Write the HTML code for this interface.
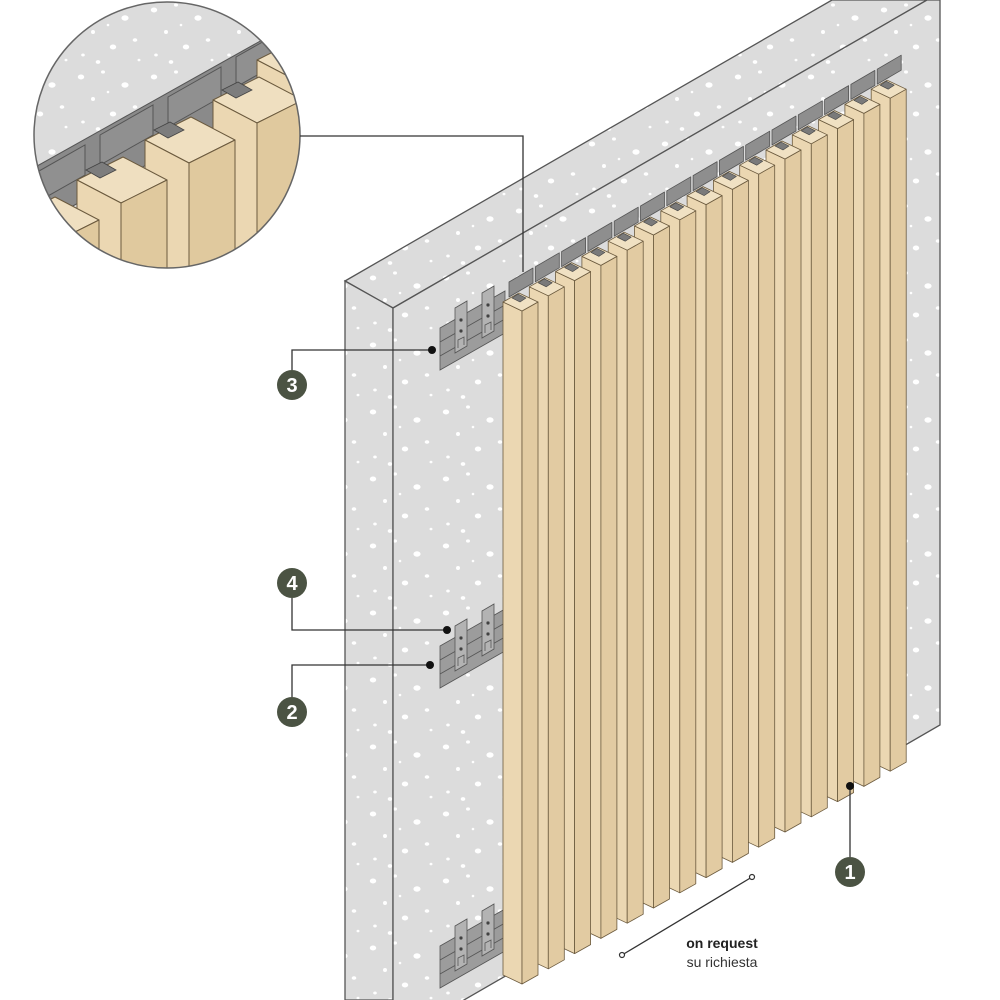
<!DOCTYPE html>
<html><head><meta charset="utf-8"><style>
html,body{margin:0;padding:0;background:#fff;}
svg{display:block;}
text{font-family:"Liberation Sans",sans-serif;}
</style></head><body>
<svg width="1000" height="1000" viewBox="0 0 1000 1000" xmlns="http://www.w3.org/2000/svg">
<defs>
<pattern id="dots" width="73" height="67" patternUnits="userSpaceOnUse">
<rect width="73" height="67" fill="#dcdcdc"/>
<g fill="#fff">
<ellipse cx="8" cy="10" rx="3.2" ry="2.5"/><ellipse cx="30" cy="5" rx="2" ry="1.6"/>
<ellipse cx="52" cy="18" rx="3.6" ry="2.7"/><ellipse cx="20" cy="32" rx="2" ry="2"/>
<ellipse cx="62" cy="40" rx="2.3" ry="1.8"/><ellipse cx="40" cy="47" rx="3.2" ry="2.5"/>
<ellipse cx="10" cy="55" rx="1.8" ry="1.5"/><ellipse cx="66" cy="60" rx="1.5" ry="1.3"/>
<ellipse cx="35" cy="25" rx="1.3" ry="1.3"/><ellipse cx="25" cy="62" rx="2.3" ry="1.9"/>
</g>
</pattern>
<g id="slat" stroke="#6b5a3e" stroke-width="0.8" stroke-linejoin="round">
<polygon points="509,297 533,283 533,268 509,282" fill="#8e8e8e" stroke="#555"/>
<polygon points="503,302 522,311 522,984 503,975" fill="#ebd7b2"/>
<polygon points="522,311 538,302 538,975 522,984" fill="#e2cba2"/>
<polygon points="503,302 522,311 538,302 519,293" fill="#f0e1c3"/>
<polygon points="512,298 520,302 526,298 518,294" fill="#7a7a7a" stroke="#444" stroke-width="0.6"/>
</g>
<g id="rail" stroke="#555" stroke-width="0.8">
<polygon points="440,0 505,-37 505,5 440,42" fill="#9c9c9c"/>
<polyline points="440,14 505,-23" fill="none"/>
<polyline points="440,28 505,-9" fill="none"/>
<polygon points="455,-20 467,-27 467,18 455,25" fill="#b3b3b3"/>
<polygon points="482,-35 494,-42 494,3 482,10" fill="#b3b3b3"/>
<circle cx="461" cy="-8" r="1.3" fill="#333"/><circle cx="461" cy="3" r="1.3" fill="#333"/>
<circle cx="488" cy="-23" r="1.3" fill="#333"/><circle cx="488" cy="-12" r="1.3" fill="#333"/>
<polyline points="458,20 458,12 464,9 464,17" fill="none"/>
<polyline points="485,5 485,-3 491,-6 491,2" fill="none"/>
</g>
<clipPath id="cc"><circle cx="167" cy="135" r="133"/></clipPath>
</defs>

<polygon points="345,281 832,0 927,0 393,308" fill="url(#dots)" stroke="#555" stroke-width="1.3"/>
<polygon points="345,281 393,308 393,1000 345,1000" fill="url(#dots)" stroke="#555" stroke-width="1.3"/>
<polygon points="393,308 927,0 940,0 940,725 393,1041" fill="url(#dots)" stroke="#555" stroke-width="1.3"/>

<use href="#rail" transform="translate(0,328)"/>
<use href="#rail" transform="translate(0,646)"/>
<use href="#rail" transform="translate(0,946)"/>

<use href="#slat" transform="translate(368.2,-212.8)"/>
<use href="#slat" transform="translate(341.9,-197.6)"/>
<use href="#slat" transform="translate(315.6,-182.4)"/>
<use href="#slat" transform="translate(289.3,-167.2)"/>
<use href="#slat" transform="translate(263,-152)"/>
<use href="#slat" transform="translate(236.7,-136.8)"/>
<use href="#slat" transform="translate(210.4,-121.6)"/>
<use href="#slat" transform="translate(184.1,-106.4)"/>
<use href="#slat" transform="translate(157.8,-91.2)"/>
<use href="#slat" transform="translate(131.5,-76)"/>
<use href="#slat" transform="translate(105.2,-60.8)"/>
<use href="#slat" transform="translate(78.9,-45.6)"/>
<use href="#slat" transform="translate(52.6,-30.4)"/>
<use href="#slat" transform="translate(26.3,-15.2)"/>
<use href="#slat"/>

<g clip-path="url(#cc)">
<rect x="30" y="0" width="280" height="280" fill="url(#dots)"/>
<polygon points="30,170 280,30 280,90 30,230" fill="#8a8a8a" stroke="#555"/>
<g stroke="#555" stroke-width="1" fill="#909090">
<polygon points="32,175 85,145 85,175 32,205"/>
<polygon points="100,135 153,105 153,135 100,165"/>
<polygon points="168,97 221,67 221,97 168,127"/>
<polygon points="236,57 289,27 289,57 236,87"/>
</g>
<g stroke="#6b5a3e" stroke-width="1" stroke-linejoin="round">
<polygon points="257,60 301,83 347,60 303,37" fill="#efdfc0"/>
<polygon points="257,60 301,83 301,300 257,300" fill="#ebd7b2"/>
<polygon points="301,83 347,60 347,300 301,300" fill="#e0c99e"/>
<polygon points="213,100 257,123 303,100 259,77" fill="#efdfc0"/>
<polygon points="213,100 257,123 257,300 213,300" fill="#ebd7b2"/>
<polygon points="257,123 303,100 303,300 257,300" fill="#e0c99e"/>
<polygon points="145,140 189,163 235,140 191,117" fill="#efdfc0"/>
<polygon points="145,140 189,163 189,300 145,300" fill="#ebd7b2"/>
<polygon points="189,163 235,140 235,300 189,300" fill="#e0c99e"/>
<polygon points="77,180 121,203 167,180 123,157" fill="#efdfc0"/>
<polygon points="77,180 121,203 121,300 77,300" fill="#ebd7b2"/>
<polygon points="121,203 167,180 167,300 121,300" fill="#e0c99e"/>
<polygon points="9,220 53,243 99,220 55,197" fill="#efdfc0"/>
<polygon points="9,220 53,243 53,300 9,300" fill="#ebd7b2"/>
<polygon points="53,243 99,220 99,300 53,300" fill="#e0c99e"/>
</g>
<g fill="#7d7d7d" stroke="#444" stroke-width="0.8">
<polygon points="86,170 102,162 116,170 100,178"/>
<polygon points="154,130 170,122 184,130 168,138"/>
<polygon points="222,90 238,82 252,90 236,98"/>
</g>
</g>
<circle cx="167" cy="135" r="133" fill="none" stroke="#666" stroke-width="1.5"/>

<g stroke="#333" stroke-width="1.3" fill="none">
<polyline points="300,136 523,136 523,272"/>
<polyline points="292,370 292,350 432,350"/>
<polyline points="292,598 292,630 447,630"/>
<polyline points="292,697 292,665 430,665"/>
<polyline points="850,857 850,786"/>
<line x1="622" y1="955" x2="752" y2="877"/>
</g>
<g fill="#111">
<circle cx="432" cy="350" r="4"/><circle cx="447" cy="630" r="4"/>
<circle cx="430" cy="665" r="4"/><circle cx="850" cy="786" r="4"/>
</g>
<circle cx="622" cy="955" r="2.5" fill="#fff" stroke="#333" stroke-width="1.2"/>
<circle cx="752" cy="877" r="2.5" fill="#fff" stroke="#333" stroke-width="1.2"/>

<g fill="#4b5343">
<circle cx="292" cy="385" r="15"/><circle cx="292" cy="583" r="15"/>
<circle cx="292" cy="712" r="15"/><circle cx="850" cy="872" r="15"/>
</g>
<g fill="#fff" font-weight="bold" font-size="20" text-anchor="middle">
<text x="292" y="392">3</text><text x="292" y="590">4</text>
<text x="292" y="719">2</text><text x="850" y="879">1</text>
</g>
<text x="722" y="948" font-size="14" font-weight="bold" fill="#222" text-anchor="middle">on request</text>
<text x="722" y="967" font-size="14" fill="#333" text-anchor="middle">su richiesta</text>
</svg>
</body></html>
